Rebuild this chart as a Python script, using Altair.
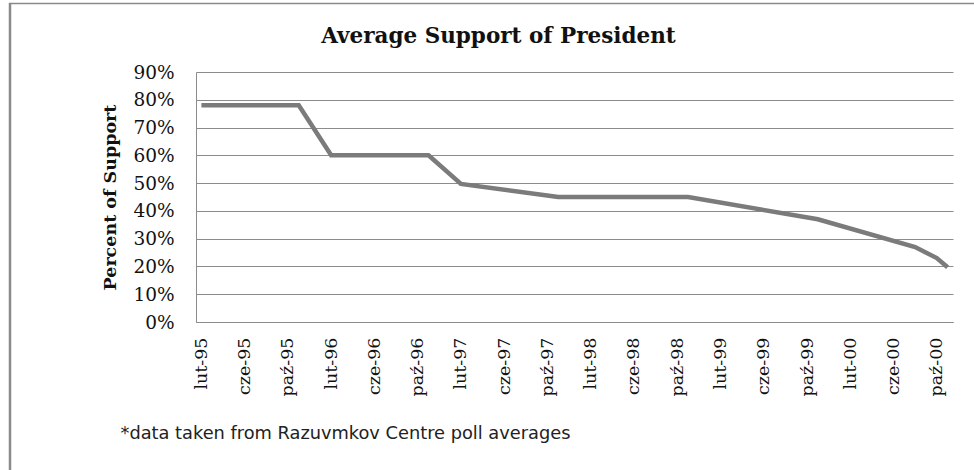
import json
import altair as alt
import pandas as pd

# Poll averages: month of observation and average support (%)
months = ["1995-02", "1995-11", "1996-02", "1996-11", "1997-02", "1997-11",
          "1998-11", "1999-11", "2000-08", "2000-10", "2000-11"]
support = [78, 78, 60, 60, 49.7, 45, 45, 37, 27, 23, 19.7]

# Month labels shown on the axis, one every fourth month from Feb 1995
tick_labels = ["lut-95", "cze-95", "paź-95", "lut-96", "cze-96", "paź-96",
               "lut-97", "cze-97", "paź-97", "lut-98", "cze-98", "paź-98",
               "lut-99", "cze-99", "paź-99", "lut-00", "cze-00", "paź-00"]
y_ticks = [0, 10, 20, 30, 40, 50, 60, 70, 80, 90]

N_MONTHS = 70  # Feb 1995 .. Nov 2000


def month_index(m):
    y, mo = m.split("-")
    return (int(y) - 1995) * 12 + (int(mo) - 2)


df = pd.DataFrame({"month": months, "support": support})
df["idx"] = df["month"].map(month_index)

label_expr = json.dumps(tick_labels, ensure_ascii=False) + "[floor(datum.value / 4)]"

SERIF = "DejaVu Serif"
GRID = "#8c8c8c"

x_axis = alt.Axis(
    values=list(range(0, 4 * len(tick_labels), 4)),
    labelExpr=label_expr,
    labelAngle=270,
    labelAlign="right",
    labelBaseline="middle",
    labelFont=SERIF,
    labelFontSize=17.5,
    labelColor="#111111",
    labelPadding=15,
    ticks=False,
    grid=False,
    domainColor=GRID,
    domainWidth=1,
    title="*data taken from  Razuvmkov Centre poll averages",
    titleFont="DejaVu Sans",
    titleFontSize=17.8,
    titleFontWeight="normal",
    titleColor="#222222",
    titleAngle=0,
    titleAlign="left",
    titleBaseline="middle",
    titleX=-76,
    titleY=111,
)

y_axis = alt.Axis(
    values=y_ticks,
    labelExpr="datum.value + '%'",
    labelFont=SERIF,
    labelFontSize=18.5,
    labelColor="#111111",
    labelPadding=22,
    ticks=False,
    grid=True,
    gridColor=GRID,
    gridWidth=1,
    domainColor=GRID,
    domainWidth=1,
    title="Percent of Support",
    titleFont=SERIF,
    titleFontSize=17.5,
    titleFontWeight="bold",
    titleColor="#111111",
    titleAngle=270,
    titleAlign="center",
    titleBaseline="middle",
    titleX=-86,
    titleY=125,
)

line = alt.Chart(df).mark_line(color="#7b7b7b", strokeWidth=4.5).encode(
    x=alt.X("idx:Q", scale=alt.Scale(domain=[-0.5, N_MONTHS - 0.5], nice=False, zero=False), axis=x_axis),
    y=alt.Y("support:Q", scale=alt.Scale(domain=[0, 90], nice=False), axis=y_axis),
)

# Outer frame of the chart (left and top edges)
frame_data = alt.Data(values=[{}])
frame_left = alt.Chart(frame_data).mark_rule(color="#8a8a8a", strokeWidth=2.5).encode(
    x=alt.value(-186), y=alt.value(-69), y2=alt.value(400)
)
frame_top = alt.Chart(frame_data).mark_rule(color="#8a8a8a", strokeWidth=1.5).encode(
    x=alt.value(-187), x2=alt.value(800), y=alt.value(-68.5)
)

chart = alt.layer(frame_left, frame_top, line).properties(
    width=757,
    height=250,
    autosize=alt.AutoSizeParams(type="none"),
    padding={"left": 196, "top": 72, "right": 21, "bottom": 148},
    background="white",
    title=alt.TitleParams(
        "Average Support of President",
        font=SERIF,
        fontSize=21.5,
        fontWeight="bold",
        color="#111111",
        anchor="middle",
        baseline="bottom",
        offset=0,
        dy=68,
        dx=-76,
    ),
).configure_view(stroke=None)

chart.save("out.html", embed_options={"renderer": "svg", "actions": False})
